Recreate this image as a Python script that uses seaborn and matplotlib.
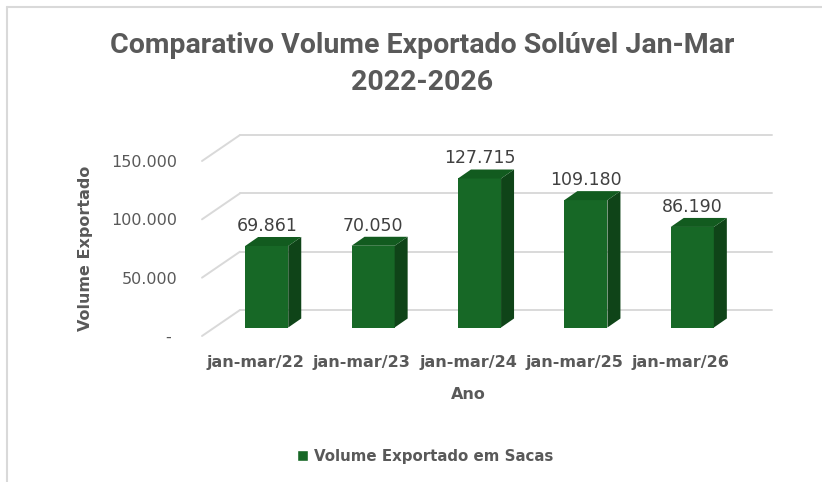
import matplotlib
matplotlib.use("Agg")
import matplotlib.pyplot as plt
from matplotlib.patches import Patch, Polygon
from matplotlib.lines import Line2D
from matplotlib.transforms import IdentityTransform, ScaledTranslation
import pandas as pd
import seaborn as sns


PERIODS = ["jan-mar/22", "jan-mar/23", "jan-mar/24", "jan-mar/25", "jan-mar/26"]
VOLUMES = [69861, 70050, 127715, 109180, 86190]
Y_TICKS = [0, 50000, 100000, 150000]
Y_TICK_LABELS = ["- ", "50.000", "100.000", "150.000"]

TITLE = "Comparativo Volume Exportado Solúvel Jan-Mar\n2022-2026"
SERIES = "Volume Exportado em Sacas"

FRONT = "#176826"
TOP = "#125B1F"
SIDE = "#0F4418"
GRID = "#D9D9D9"
TEXT = "#595959"
VALUE_TEXT = "#404040"

# fake 3d offsets, in pixels
BAR_SHIFT = (11.5, 8.5)
BAR_DEPTH = (13, 9)
WALL = (38, 26)
DPI = 100


def fmt(v):
    return f"{v:,}".replace(",", ".")


def setup_style():
    sns.set_theme(style="white", rc={"figure.dpi": DPI, "savefig.dpi": DPI})
    plt.rcParams["font.family"] = ["DejaVu Sans"]


def main():
    setup_style()
    df = pd.DataFrame({"Período": PERIODS, "Volume": VOLUMES})

    fig = plt.figure(figsize=(8.22, 4.82))
    W, H = 822, 482
    ax = fig.add_axes([202 / W, (H - 336) / H, 532 / W, 175 / H])

    sns.barplot(data=df, x="Período", y="Volume", color=FRONT, saturation=1,
                width=0.405, ax=ax, zorder=3)
    ax.set_xlim(-0.5, len(PERIODS) - 0.5)
    ax.set_ylim(0, 150000)

    ident = IdentityTransform()

    # back wall gridlines and floor diagonals
    span = ax.transData.transform((len(PERIODS) - 0.5, 0))[0] - ax.transData.transform((-0.5, 0))[0]
    for v in Y_TICKS:
        fx, fy = ax.transData.transform((-0.5, v))
        bx, by = fx + WALL[0], fy + WALL[1]
        ax.add_line(Line2D([fx, bx], [fy, by], transform=ident, color=GRID,
                           lw=1.4, clip_on=False, zorder=1))
        ax.add_line(Line2D([bx, bx + span], [by, by], transform=ident, color=GRID,
                           lw=1.4, clip_on=False, zorder=1))

    shift = ScaledTranslation(BAR_SHIFT[0] / DPI, BAR_SHIFT[1] / DPI, fig.dpi_scale_trans)
    for patch, val in zip(ax.patches, VOLUMES):
        patch.set_transform(ax.transData + shift)
        patch.set_clip_on(False)
        patch.set_edgecolor("none")
        x0 = patch.get_x()
        x1 = x0 + patch.get_width()
        (ax0, ay0) = ax.transData.transform((x0, 0)) + BAR_SHIFT
        (ax1, ay1) = ax.transData.transform((x1, val)) + BAR_SHIFT
        dx, dy = BAR_DEPTH
        side = Polygon([(ax1, ay0), (ax1 + dx, ay0 + dy), (ax1 + dx, ay1 + dy), (ax1, ay1)],
                       closed=True, transform=ident, facecolor=SIDE, edgecolor="none",
                       clip_on=False, zorder=3)
        top = Polygon([(ax0, ay1), (ax0 + dx, ay1 + dy), (ax1 + dx, ay1 + dy), (ax1, ay1)],
                      closed=True, transform=ident, facecolor=TOP, edgecolor="none",
                      clip_on=False, zorder=3)
        ax.add_patch(side)
        ax.add_patch(top)
        ax.text((ax0 + ax1) / 2, ay1 + 20, fmt(val), transform=ident, ha="center",
                va="center", fontsize=12.5, color=VALUE_TEXT, zorder=4)

    for s in ax.spines.values():
        s.set_visible(False)
    ax.grid(False)
    ax.set_yticks(Y_TICKS)
    ax.set_yticklabels(Y_TICK_LABELS)
    ax.tick_params(axis="y", length=0, pad=18, labelsize=11.5, labelcolor=TEXT)
    ax.tick_params(axis="x", length=0, pad=14, labelsize=11.5, labelcolor=TEXT)
    for t in ax.get_xticklabels():
        t.set_fontweight("bold")
    ax.set_xlabel("Ano", fontsize=11.5, fontweight="bold", color=TEXT, labelpad=12)
    ax.set_ylabel("Volume Exportado", fontsize=11.5, fontweight="bold", color=TEXT)
    ax.yaxis.set_label_coords(93 / W, 1 - 248 / H, transform=fig.transFigure)
    ax.patch.set_alpha(0)

    fig.text(422 / W, 1 - 64 / H, TITLE, ha="center", va="center", fontsize=20.5,
             fontweight="bold", color=TEXT, linespacing=1.45,
             family=["Roboto", "DejaVu Sans"])

    fig.legend(handles=[Patch(facecolor=FRONT, label=SERIES)], loc="center",
               bbox_to_anchor=(425 / W, 1 - 456 / H), frameon=False,
               handlelength=0.75, handleheight=0.75, handletextpad=0.35,
               prop={"weight": "bold", "size": 10.8}, labelcolor=TEXT)

    # chart area border (top and left visible)
    fig.add_artist(Line2D([7 / W, 1], [1 - 7 / H, 1 - 7 / H], transform=fig.transFigure,
                          color=GRID, lw=1.5))
    fig.add_artist(Line2D([7 / W, 7 / W], [0, 1 - 7 / H], transform=fig.transFigure,
                          color=GRID, lw=1.5))

    fig.savefig("out.png", dpi=DPI)
    plt.close(fig)


if __name__ == "__main__":
    main()
